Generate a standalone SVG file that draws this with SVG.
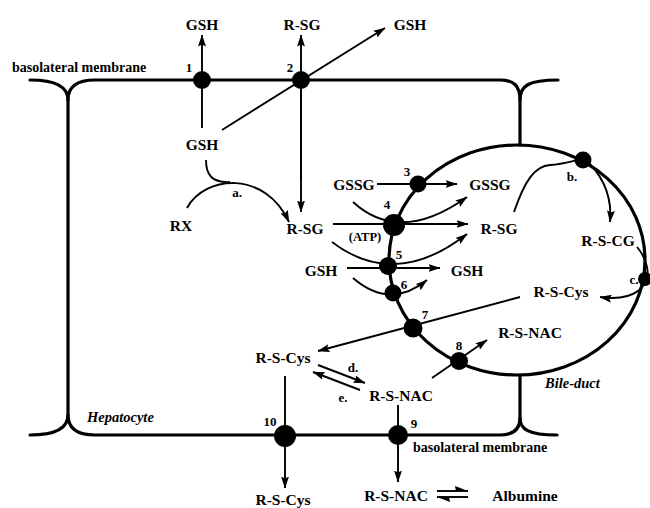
<svg xmlns="http://www.w3.org/2000/svg" width="650" height="508" viewBox="0 0 650 508">
<style>
.m{fill:none;stroke:#000;stroke-width:3.2;stroke-linecap:round}
.c{fill:none;stroke:#000;stroke-width:1.9}
.a{marker-end:url(#ah)}
.t{font-family:"Liberation Serif",serif;font-weight:bold;font-size:15.5px;text-anchor:middle;fill:#000}
.n{font-family:"Liberation Serif",serif;font-weight:bold;font-size:13px;text-anchor:middle;fill:#000}
.i{font-family:"Liberation Serif",serif;font-weight:bold;font-style:italic;font-size:14.5px;fill:#000}
.s{font-family:"Liberation Serif",serif;font-weight:bold;font-size:14px;fill:#000}
.d{fill:#000}
</style>
<defs>
<marker id="ah" viewBox="0 0 12 8" refX="11.5" refY="4" markerWidth="12" markerHeight="8" markerUnits="userSpaceOnUse" orient="auto">
<path d="M0,0 L12,4 L0,8 L2,4 z" fill="#000"/>
</marker>
</defs>

<g id="membranes">
<path class="m" d="M30,80 C55,80 68,86 68,100 L68,415 C68,429 55,435 30,435"/>
<path class="m" d="M68,100 C68,86 78,80 95,80 L500,80 C514,80 520,86 520,100 L520,145"/>
<path class="m" d="M520,100 C520,86 528,80 558,80"/>
<path class="m" d="M68,415 C68,429 78,435 95,435 L500,435 C514,435 520,429 520,418 L520,375"/>
<path class="m" d="M520,418 C520,429 528,435 557,435"/>
<ellipse class="m" cx="517" cy="260" rx="128" ry="115"/>
<text class="s" x="12" y="72">basolateral membrane</text>
<text class="s" x="413" y="452">basolateral membrane</text>
<text class="i" x="87" y="422">Hepatocyte</text>
<text class="i" x="545" y="388">Bile-duct</text>
</g>

<g id="connectors">
<line class="c a" x1="202" y1="128" x2="202" y2="35"/>
<line class="c a" x1="301" y1="180" x2="301" y2="35"/>
<line class="c a" x1="301" y1="90" x2="301" y2="212"/>
<line class="c a" x1="222" y1="130" x2="385" y2="28"/>
<path class="c a" d="M187,208 C205,175 265,170 289,222"/>
<path class="c" d="M206,160 C206,175 212,183 230,182"/>
<line class="c a" x1="377" y1="184" x2="457" y2="184"/>
<line class="c a" x1="333" y1="224" x2="468" y2="224"/>
<line class="c a" x1="347" y1="268" x2="440" y2="268"/>
<path class="c a" d="M353,202 Q400,245 467,197"/>
<path class="c a" d="M332,242 Q395,290 467,234"/>
<path class="c a" d="M353,278 Q390,310 427,280"/>
<path class="c" d="M514,212 C525,180 535,166 550,165 C565,164 575,160 583,159"/>
<path class="c a" d="M590,164 C605,180 612,200 610,222"/>
<path class="c a" d="M637,247 C648,260 650,275 645,283 C638,296 620,300 600,297"/>
<line class="c a" x1="520" y1="297" x2="318" y2="351"/>
<line class="c a" x1="432" y1="378" x2="487" y2="340"/>
<line class="c a" x1="318" y1="365" x2="365" y2="383"/>
<line class="c a" x1="360" y1="390" x2="313" y2="372"/>
<line class="c a" x1="285" y1="376" x2="285" y2="488"/>
<line class="c a" x1="398" y1="405" x2="398" y2="482"/>
<path class="c" d="M437,491 L468,491"/>
<path class="d" d="M468,491 L455,486 L456,491 z"/>
<path class="c" d="M468,497 L437,497"/>
<path class="d" d="M437,497 L450,502 L449,497 z"/>
</g>

<g id="t1"><circle class="d" cx="202" cy="80" r="9"/><text class="n" x="189" y="72">1</text></g>
<g id="t2"><circle class="d" cx="301" cy="80" r="9"/><text class="n" x="290" y="72">2</text></g>
<g id="t3"><circle class="d" cx="418" cy="184" r="8.5"/><text class="n" x="407" y="176">3</text></g>
<g id="t4"><circle class="d" cx="394" cy="225" r="11"/><text class="n" x="387" y="209">4</text></g>
<g id="t5"><circle class="d" cx="388" cy="266" r="9"/><text class="n" x="399" y="259">5</text></g>
<g id="t6"><circle class="d" cx="393" cy="293" r="8.5"/><text class="n" x="404" y="289">6</text></g>
<g id="t7"><circle class="d" cx="413" cy="328" r="9.5"/><text class="n" x="425" y="319">7</text></g>
<g id="t8"><circle class="d" cx="459" cy="361" r="9"/><text class="n" x="459" y="350">8</text></g>
<g id="t9"><circle class="d" cx="398" cy="435" r="10"/><text class="n" x="414" y="428">9</text></g>
<g id="t10"><circle class="d" cx="285" cy="436" r="11"/><text class="n" x="270" y="426">10</text></g>
<g id="eb"><circle class="d" cx="583" cy="160" r="8.5"/><text class="n" x="572" y="181">b.</text></g>
<g id="ec"><circle class="d" cx="645" cy="279" r="7"/><text class="n" x="634" y="284">c.</text></g>
<g id="ea"><text class="n" x="237" y="197">a.</text></g>
<g id="ed"><text class="n" x="353" y="372">d.</text></g>
<g id="ee"><text class="n" x="343" y="402">e.</text></g>

<g id="gsh_out1"><text class="t" x="202" y="30">GSH</text></g>
<g id="rsg_out"><text class="t" x="302" y="30">R-SG</text></g>
<g id="gsh_out2"><text class="t" x="410" y="30">GSH</text></g>
<g id="gsh_in"><text class="t" x="202" y="150">GSH</text></g>
<g id="rx"><text class="t" x="181" y="231">RX</text></g>
<g id="rsg_in"><text class="t" x="305" y="234">R-SG</text></g>
<g id="atp"><text class="t" x="365" y="241" style="font-size:12.5px">(ATP)</text></g>
<g id="gssg_in"><text class="t" x="354" y="190">GSSG</text></g>
<g id="gssg_bile"><text class="t" x="490" y="190">GSSG</text></g>
<g id="rsg_bile"><text class="t" x="499" y="234">R-SG</text></g>
<g id="gsh_in2"><text class="t" x="321" y="276">GSH</text></g>
<g id="gsh_bile"><text class="t" x="467" y="276">GSH</text></g>
<g id="rscg"><text class="t" x="608" y="246">R-S-CG</text></g>
<g id="rscys_bile"><text class="t" x="561" y="297">R-S-Cys</text></g>
<g id="rsnac_bile"><text class="t" x="530" y="338">R-S-NAC</text></g>
<g id="rscys_in"><text class="t" x="283" y="363">R-S-Cys</text></g>
<g id="rsnac_in"><text class="t" x="401" y="401">R-S-NAC</text></g>
<g id="rscys_out"><text class="t" x="283" y="505">R-S-Cys</text></g>
<g id="rsnac_out"><text class="t" x="396" y="501">R-S-NAC</text></g>
<g id="albumine"><text class="t" x="525" y="501">Albumine</text></g>
</svg>
